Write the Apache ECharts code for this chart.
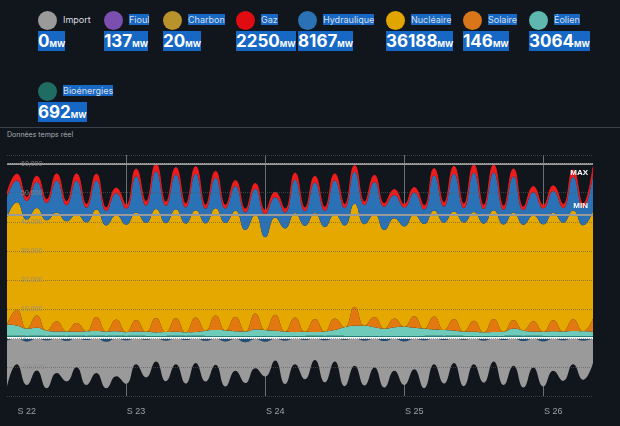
<!DOCTYPE html>
<html>
<head>
<meta charset="utf-8">
<script src="https://cdn.jsdelivr.net/npm/echarts@6/dist/echarts.min.js"></script>
<style>
  body { margin: 0; background: #11161c; font-family: Inter, "Noto Sans", sans-serif; width: 620px; height: 426px; overflow: hidden; position: relative; }
  .item { position: absolute; }
  .ico { position: absolute; left: 0; top: 0; width: 19px; height: 19px; border-radius: 50%; }
  .lab { position: absolute; left: 25px; top: 3px; font-size: 9px; color: #d8dde3; white-space: nowrap; }
  .val { position: absolute; left: 0; top: 20px; font-size: 17px; font-weight: 700; color: #fff; white-space: nowrap; }
  .val small { font-size: 8px; }
  .sel { background: #1768c4; }
  #rule { position: absolute; left: 0; top: 127px; width: 620px; height: 1px; background: #3a4047; }
  #note { position: absolute; left: 7px; top: 130px; font-size: 7px; color: #a8adb3; }
  #chart { position: absolute; left: 0; top: 140px; width: 620px; height: 286px; }
</style>
</head>
<body>
<div id="head"></div>
<div id="rule"></div>
<div id="note">Données temps réel</div>
<div id="chart"></div>
<script>
// header
const headNames = ['Import', 'Fioul', 'Charbon', 'Gaz', 'Hydraulique', 'Nucléaire', 'Solaire', 'Éolien', 'Bioénergies']
const headValues = [0, 137, 20, 2250, 8167, 36188, 146, 3064, 692]
const headColors = ['#9a9a9a', '#7a4fb0', '#b8922a', '#e00c12', '#2a72b5', '#e0a500', '#d9761a', '#5fb8b0', '#1f6d62']
const headX = [38, 104, 163, 236, 298, 386, 463, 529, 38]
const headY = [11, 11, 11, 11, 11, 11, 11, 11, 82]

// chart data, two points per day: [night, day]
const weekLabels = { 2: 'S 22', 13: 'S 23', 27: 'S 24', 41: 'S 25', 55: 'S 26' }
const weekStarts = [12, 26, 40, 54]
const bioenergies = [700,720, 700,720, 690,710, 690,710, 700,720, 700,710, 690,710, 690,700, 700,710, 700,710,
  690,700, 690,700, 680,700, 680,690, 690,700, 700,710, 700,710, 690,700, 690,700, 680,690,
  690,700, 700,710, 700,710, 690,700, 690,700, 700,710, 700,710, 690,700, 690,700, 690,700]
const eolien = [3800,3500, 2500,2800, 1800,1500, 1500,1400, 1600,1700, 1500,1600, 1300,1500, 1400,1200, 1300,1400, 1200,1300,
  1800,2000, 1900,1600, 1500,2200, 2000,1800, 1500,1300, 1400,1300, 1500,2000, 3000,3500, 3500,3000, 2500,3000,
  3200,2800, 2500,2200, 2000,1800, 1500,1400, 1200,1300, 1400,2500, 1800,1500, 1400,1600, 1500,1700, 1600,1500]
const solaire = [0,5500, 0,4200, 0,3500, 0,3000, 0,4800, 0,4000, 0,4000, 0,5000, 0,4700, 0,5000,
  0,5000, 0,5000, 0,5500, 0,5500, 0,5000, 0,4500, 0,4000, 0,6500, 0,3500, 0,3000,
  0,4000, 0,4500, 0,4000, 0,3800, 0,4500, 0,3000, 0,3500, 0,3800, 0,4000, 0,4500]
const nucleaire = [37000,37000, 37500,37000, 38000,37500, 38000,37500, 37500,37000, 36500,36000, 37000,37000, 37500,37500, 37500,37500, 37500,37000,
  37000,37000, 37000,36500, 35000,34000, 32000,33500, 35500,36000, 36500,36500, 36000,36000, 35000,35500, 35000,35500, 34000,34500,
  34500,35000, 36000,36500, 37000,37000, 37500,37500, 37500,37500, 37000,37000, 36500,36500, 37000,37000, 37500,37500, 36500,37000]
const hydraulique = [7000,7500, 6500,9000, 6000,11000, 5500,11500, 5000,10000, 5000,7500, 5500,12500, 6000,13000, 6000,12000, 5500,12500,
  5000,10500, 5000,8500, 6000,9000, 8000,7000, 5500,11500, 5000,10500, 5500,11500, 6000,11000, 6500,11000, 8000,8000,
  6500,7500, 5000,12000, 5500,13000, 5000,13500, 5000,13000, 5000,12500, 5000,8000, 5500,7500, 5000,11500, 6000,12500]
const gaz = [1300,2200, 1200,2000, 1200,2300, 1300,2400, 1200,2200, 1100,1800, 1300,2500, 1400,2600, 1300,2400, 1300,2500,
  1200,2200, 1100,1900, 1200,1800, 1300,1700, 1200,2300, 1200,2200, 1300,2300, 1300,2200, 1200,2300, 1100,1900,
  1100,1800, 1300,2400, 1400,2600, 1400,2700, 1300,2600, 1300,2500, 1100,1900, 1100,1800, 1300,2400, 1400,2600]
const pompage = [-900,-100, -1200,-200, -800,-100, -1000,-100, -700,-100, -1300,-200, -800,-100, -600,-100, -900,-100, -700,-100,
  -1000,-200, -1200,-300, -1500,-400, -1300,-300, -900,-100, -700,-100, -800,-100, -600,-100, -900,-200, -1100,-300,
  -1200,-300, -800,-100, -700,-100, -600,-100, -900,-100, -700,-100, -1100,-200, -1200,-300, -800,-100, -900,-100]
const exportation = [-16000,-9000, -15000,-11000, -16500,-12000, -14000,-10000, -15500,-12000, -16000,-13000, -15000,-9000, -13000,-8000, -14000,-9000, -15000,-8500,
  -14000,-9000, -15500,-11000, -14000,-10000, -12000,-7500, -15000,-9000, -13500,-7500, -14500,-8000, -16000,-9500, -15500,-10000, -16000,-11000,
  -15000,-10500, -16500,-9000, -15000,-8500, -16000,-9000, -14500,-8000, -15500,-9500, -16000,-10000, -15500,-11000, -14000,-9000, -13500,-8500]
const maxLevel = 60000
const minLevel = 42400

const head = document.getElementById('head')
headNames.forEach((name, i) => {
  const el = document.createElement('div')
  el.className = 'item'
  el.style.left = headX[i] + 'px'
  el.style.top = headY[i] + 'px'
  el.innerHTML = '<div class="ico" style="background:' + headColors[i] + '"></div>' +
    '<div class="lab' + (i > 0 ? ' sel' : '') + '">' + name + '</div>' +
    '<div class="val sel">' + headValues[i] + '<small>MW</small></div>'
  head.appendChild(el)
})

const chart = echarts.init(document.getElementById('chart'))
const cats = bioenergies.map((v, i) => i)

function area(name, data, color, stack) {
  return {
    name: name, type: 'line', stack: stack, data: data, symbol: 'none', smooth: 0.5,
    lineStyle: { width: name === 'Gaz' ? 1 : 0, color: color },
    areaStyle: { color: color, opacity: 1 },
    itemStyle: { color: color }
  }
}

const series = [
  area('Bioénergies', bioenergies, '#1f7f74', 'prod'),
  area('Éolien', eolien, '#6ecbb9', 'prod'),
  area('Solaire', solaire, '#e2780f', 'prod'),
  area('Nucléaire', nucleaire, '#e5a800', 'prod'),
  area('Hydraulique', hydraulique, '#2a72b5', 'prod'),
  area('Gaz', gaz, '#ee1c1c', 'prod'),
  area('Pompage', pompage, '#1b4f7a', 'prod'),
  area('Export', exportation, '#9a9a9a', 'prod')
]
series[0].markLine = {
  symbol: 'none', silent: true,
  data: [
    { yAxis: maxLevel, lineStyle: { color: '#9a9a9a', width: 2, type: 'solid' },
      label: { formatter: 'MAX', position: 'insideEndBottom', color: '#fff', fontSize: 8, fontWeight: 'bold' } },
    { yAxis: minLevel, lineStyle: { color: '#9a9a9a', width: 2, type: 'solid' },
      label: { formatter: 'MIN', position: 'insideEndTop', color: '#fff', fontSize: 8, fontWeight: 'bold' } },
    { yAxis: 0, lineStyle: { color: '#ffffff', width: 2, type: 'solid' }, label: { show: false } }
  ]
}

chart.setOption({
  animation: false,
  grid: { left: 7, right: 27, top: 15, bottom: 30 },
  xAxis: {
    type: 'category', data: cats, boundaryGap: false,
    axisLine: { show: false }, axisTick: { show: false },
    axisLabel: {
      interval: (i) => weekLabels[i] !== undefined,
      formatter: (v) => weekLabels[v] || '',
      color: '#9aa0a6', fontSize: 9, margin: 11
    },
    splitLine: { show: true, interval: (i) => weekStarts.includes(i), lineStyle: { color: '#6a6f75', width: 1 } }
  },
  yAxis: {
    type: 'value', min: -20000, max: 63000, interval: 10000, z: 10,
    axisLabel: { inside: true, color: 'rgba(140,140,140,0.85)', fontSize: 7, showMaxLabel: false, showMinLabel: false, margin: 14 },
    axisLine: { show: false }, axisTick: { show: false },
    splitLine: { lineStyle: { color: 'rgba(90,90,90,0.6)', type: 'dotted' } }
  },
  series: series
})
</script>
</body>
</html>
